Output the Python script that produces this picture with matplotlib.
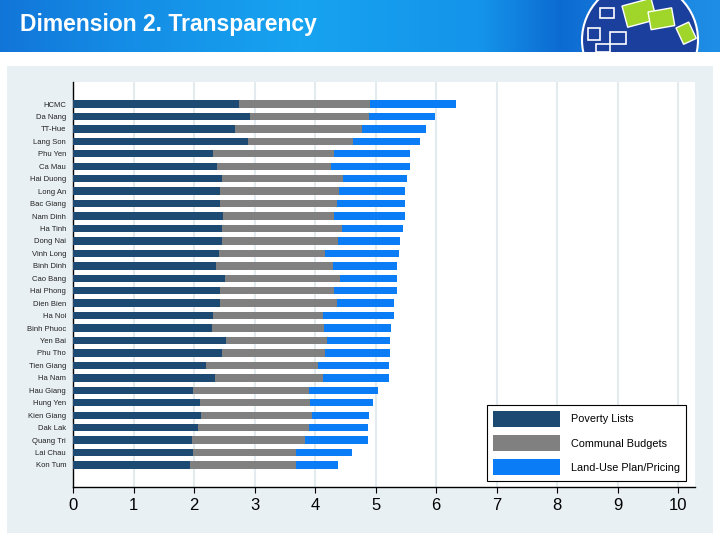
import numpy as np
import matplotlib
matplotlib.use("Agg")
from matplotlib import pyplot as plt
from matplotlib.patches import Rectangle, Circle, Patch

provinces = ["HCMC", "Da Nang", "TT-Hue", "Lang Son", "Phu Yen", "Ca Mau", "Hai Duong",
             "Long An", "Bac Giang", "Nam Dinh", "Ha Tinh", "Dong Nai", "Vinh Long",
             "Binh Dinh", "Cao Bang", "Hai Phong", "Dien Bien", "Ha Noi", "Binh Phuoc",
             "Yen Bai", "Phu Tho", "Tien Giang", "Ha Nam", "Hau Giang", "Hung Yen",
             "Kien Giang", "Dak Lak", "Quang Tri", "Lai Chau", "Kon Tum"]

poverty_lists = [2.75, 2.92, 2.67, 2.90, 2.32, 2.38, 2.46, 2.43, 2.43, 2.48, 2.46, 2.46, 2.41,
                 2.37, 2.51, 2.43, 2.43, 2.31, 2.29, 2.53, 2.46, 2.19, 2.35, 1.99, 2.10,
                 2.12, 2.06, 1.97, 1.99, 1.93]
communal_budgets = [2.16, 1.97, 2.10, 1.73, 2.00, 1.89, 2.00, 1.96, 1.94, 1.84, 1.99, 1.92, 1.76,
                    1.93, 1.91, 1.89, 1.94, 1.82, 1.86, 1.66, 1.71, 1.86, 1.78, 1.91, 1.82,
                    1.83, 1.84, 1.86, 1.69, 1.75]
land_use = [1.42, 1.10, 1.06, 1.10, 1.25, 1.30, 1.06, 1.09, 1.11, 1.16, 1.01, 1.03, 1.21,
            1.05, 0.93, 1.03, 0.94, 1.18, 1.11, 1.05, 1.07, 1.17, 1.09, 1.14, 1.03,
            0.94, 0.98, 1.04, 0.93, 0.70]

series_names = ["Poverty Lists", "Communal Budgets", "Land-Use Plan/Pricing"]
colors = ["#1c4a73", "#808080", "#0a7cf5"]

fig = plt.figure(figsize=(7.2, 5.4), dpi=100)

# light panel behind the chart
fig.patches.append(Rectangle((7/720, 1-533/540), 706/720, 467/540, transform=fig.transFigure,
                             facecolor="#e9f0f3", edgecolor="none", zorder=-1))

# header band with gradient
hax = fig.add_axes([0, 1-52/540, 1, 52/540])
stops_x = [0, 120, 300, 480, 560, 640, 720]
stops_c = [(0.07, 0.46, 0.85), (0.08, 0.55, 0.90), (0.09, 0.64, 0.94), (0.08, 0.58, 0.92),
           (0.05, 0.42, 0.82), (0.10, 0.50, 0.88), (0.12, 0.56, 0.90)]
xs = np.arange(720)
grad = np.stack([np.interp(xs, stops_x, [c[k] for c in stops_c]) for k in range(3)], axis=-1)
hax.imshow(grad[None, :, :], aspect="auto", extent=(0, 720, 52, 0))
hax.set_xlim(0, 720)
hax.set_ylim(52, 0)
hax.axis("off")
# puzzle-globe logo (rough)
hax.add_patch(Circle((640, 40), 58, facecolor="#1b3f9c", edgecolor="white", lw=1.5))
for (x0, y0, w, h) in [(600, 8, 14, 10), (588, 28, 12, 12), (610, 32, 16, 12), (596, 44, 14, 8)]:
    hax.add_patch(Rectangle((x0, y0), w, h, facecolor="none", edgecolor="white", lw=1.2))
for (x0, y0, w, h, a) in [(622, 6, 30, 22, -15), (648, 12, 24, 18, -10), (676, 28, 14, 18, -25)]:
    hax.add_patch(Rectangle((x0, y0), w, h, angle=a, facecolor="#9fd629", edgecolor="white", lw=1))
hax.text(20, 24.5, "Dimension 2. Transparency", color="white", fontsize=16.5,
         family="Liberation Sans", weight="bold", va="center", ha="left")

ax = fig.add_axes([73/720, 1-487/540, 622/720, 405/540])
ax.set_zorder(2)
y = np.arange(len(provinces))
pov = np.array(poverty_lists)
bud = np.array(communal_budgets)
land = np.array(land_use)
bh = 0.59
ax.barh(y, pov, height=bh, color=colors[0], zorder=3)
ax.barh(y, bud, left=pov, height=bh, color=colors[1], zorder=3)
ax.barh(y, land, left=pov + bud, height=bh, color=colors[2], zorder=3)

ax.set_xlim(0, 10.28)
ax.set_ylim(len(provinces) - 1 + 1.77, -1.77)
ax.set_xticks(range(11))
ax.set_xticklabels([str(i) for i in range(11)], fontsize=12, family="Liberation Sans")
ax.set_yticks(y)
ax.set_yticklabels(provinces, fontsize=5.5, family="Liberation Sans", color="#222222")
ax.tick_params(axis="y", length=0, pad=5)
ax.tick_params(axis="x", length=4, width=0.8, pad=4)
ax.xaxis.grid(True, color="#e3ebef", lw=1.5, zorder=0)
for s in ["top", "right"]:
    ax.spines[s].set_visible(False)
ax.spines["left"].set_linewidth(1)
ax.spines["bottom"].set_linewidth(1)

handles = [Patch(facecolor=c, edgecolor="none") for c in colors]
leg = ax.legend(handles, series_names, loc="upper left",
                bbox_to_anchor=(487/720, 1-405/540), bbox_transform=fig.transFigure,
                prop={"family": "Liberation Sans", "size": 7.8}, frameon=True, fancybox=False,
                handlelength=6.2, handleheight=1.9, labelspacing=0.75, handletextpad=1.0,
                borderpad=0.55, borderaxespad=0, framealpha=1)
leg.get_frame().set_edgecolor("black")
leg.get_frame().set_linewidth(0.8)

fig.savefig("out.png", dpi=100)
